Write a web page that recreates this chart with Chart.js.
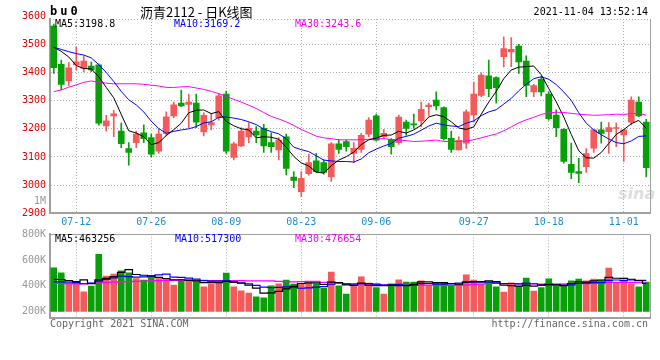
<!DOCTYPE html>
<html>
<head>
<meta charset="utf-8">
<script src="https://cdn.jsdelivr.net/npm/chart.js@4.4.0/dist/chart.umd.min.js"></script>
<style>
  body { margin: 0; background: #fff; }
  #wrap { position: relative; width: 660px; height: 360px; overflow: hidden; font-family: 'DejaVu Sans Mono', monospace; }
  canvas { position: absolute; left: 0; }
  .txt { position: absolute; white-space: nowrap; font-size: 10px; line-height: 12px; }
</style>
</head>
<body>
<div id="wrap">
  <div class="txt" style="left:618px;top:184px;font:italic bold 16px 'DejaVu Sans';color:#dedede;line-height:20px">sina</div>
  <canvas id="kChart" width="660" height="232" style="top:0"></canvas>
  <canvas id="volChart" width="660" height="110" style="top:222px"></canvas>

  <div class="txt" style="left:50px;top:5px;font-weight:bold;font-size:12px;letter-spacing:3px">bu0</div>
  <div class="txt" style="left:140px;top:3px;font-family:'Noto Sans CJK SC';font-size:13px;line-height:17px">沥青2112 - 日K线图</div>
  <div class="txt" style="right:12px;top:6px">2021-11-04 13:52:14</div>

  <div class="txt" style="left:55px;top:18px;color:#000">MA5:3198.8</div>
  <div class="txt" style="left:174px;top:18px;color:#0000ff">MA10:3169.2</div>
  <div class="txt" style="left:295px;top:18px;color:#ff00ff">MA30:3243.6</div>
  <div class="txt" style="right:614px;top:195px;color:#999">1M</div>

  <div class="txt" style="left:55px;top:233px;color:#000">MA5:463256</div>
  <div class="txt" style="left:175px;top:233px;color:#0000ff">MA10:517300</div>
  <div class="txt" style="left:295px;top:233px;color:#ff00ff">MA30:476654</div>

  <div class="txt" style="left:50px;top:318px;color:#666">Copyright 2021 SINA.COM</div>
  <div class="txt" style="right:12px;top:318px;color:#666">http://finance.sina.com.cn</div>
</div>

<script>
// 交易日
const dates = [
  '07-07','07-08','07-09','07-12','07-13','07-14','07-15','07-16','07-19','07-20',
  '07-21','07-22','07-23','07-26','07-27','07-28','07-29','07-30','08-02','08-03',
  '08-04','08-05','08-06','08-09','08-10','08-11','08-12','08-13','08-16','08-17',
  '08-18','08-19','08-20','08-23','08-24','08-25','08-26','08-27','08-30','08-31',
  '09-01','09-02','09-03','09-06','09-07','09-08','09-09','09-10','09-13','09-14',
  '09-15','09-16','09-17','09-22','09-23','09-24','09-27','09-28','09-29','09-30',
  '10-08','10-11','10-12','10-13','10-14','10-15','10-18','10-19','10-20','10-21',
  '10-22','10-25','10-26','10-27','10-28','10-29','11-01','11-02','11-03','11-04'
];
const tickDates = ['07-12','07-26','08-09','08-23','09-06','09-27','10-18','11-01'];

const openPx = [
  3565,3429,3370,3427,3415,3423,3427,3210,3246,3192,
  3130,3151,3186,3169,3121,3184,3246,3291,3287,3291,
  3189,3214,3240,3323,3098,3139,3171,3192,3202,3151,
  3125,3172,3029,2977,3041,3086,3080,3029,3147,3155,
  3113,3127,3181,3246,3172,3163,3151,3224,3218,3228,
  3279,3302,3275,3166,3125,3149,3249,3319,3388,3382,
  3456,3473,3494,3441,3331,3376,3323,3249,3198,3074,
  3048,3066,3131,3196,3190,3201,3178,3224,3295,3224
];
const highPx = [
  3572,3444,3435,3490,3459,3437,3431,3248,3266,3220,
  3151,3192,3214,3181,3198,3260,3295,3338,3323,3323,
  3257,3255,3326,3334,3153,3204,3222,3208,3216,3186,
  3169,3181,3048,3048,3110,3113,3090,3151,3163,3160,
  3151,3184,3240,3252,3198,3165,3249,3231,3252,3295,
  3291,3331,3278,3192,3172,3267,3366,3399,3444,3385,
  3527,3524,3500,3459,3358,3385,3331,3267,3201,3149,
  3095,3130,3198,3224,3222,3220,3198,3314,3314,3234
];
const lowPx = [
  3397,3338,3352,3409,3402,3403,3213,3192,3172,3133,
  3071,3133,3151,3100,3113,3175,3240,3279,3204,3204,
  3175,3196,3231,3113,3090,3137,3151,3151,3116,3116,
  3090,3036,2991,2959,3035,3045,3039,3013,3113,3121,
  3080,3116,3172,3157,3165,3110,3145,3177,3201,3208,
  3246,3267,3160,3116,3125,3130,3224,3314,3314,3291,
  3420,3421,3397,3314,3314,3317,3231,3172,3078,3023,
  3009,3045,3116,3149,3113,3137,3084,3214,3243,3029
];
const closePx = [
  3417,3358,3417,3438,3441,3409,3220,3228,3253,3147,
  3116,3181,3165,3110,3181,3243,3285,3281,3295,3224,
  3248,3222,3317,3121,3147,3192,3202,3178,3139,3137,
  3160,3059,3017,3024,3080,3048,3045,3147,3127,3137,
  3131,3177,3231,3160,3184,3137,3242,3201,3214,3269,
  3284,3281,3165,3127,3159,3260,3323,3391,3343,3346,
  3485,3482,3438,3354,3354,3331,3236,3204,3084,3045,
  3042,3112,3196,3184,3204,3204,3196,3302,3246,3062
];

const ma5 = [
  3490,3475,3455,3425,3414,3413,3385,3347,3310,3251,
  3193,3185,3172,3144,3151,3176,3197,3220,3257,3266,
  3267,3254,3261,3226,3211,3200,3196,3168,3172,3170,
  3163,3135,3102,3079,3068,3046,3043,3069,3089,3101,
  3117,3144,3161,3167,3177,3178,3191,3185,3196,3213,
  3242,3250,3243,3225,3203,3198,3207,3252,3295,3333,
  3378,3409,3419,3421,3423,3392,3343,3296,3242,3180,
  3122,3097,3096,3116,3148,3180,3197,3218,3230,3202
];
const ma10 = [
  3490,3482,3474,3467,3462,3452,3428,3400,3368,3333,
  3303,3285,3260,3227,3201,3184,3191,3196,3200,3208,
  3221,3225,3241,3242,3238,3233,3225,3215,3199,3190,
  3182,3165,3135,3126,3119,3104,3089,3086,3084,3084,
  3082,3093,3115,3128,3139,3148,3167,3173,3181,3195,
  3210,3220,3214,3210,3208,3220,3228,3247,3260,3268,
  3288,3308,3335,3358,3378,3385,3376,3357,3331,3301,
  3257,3220,3196,3179,3164,3151,3147,3157,3173,3175
];
const ma30 = [
  3332,3338,3348,3356,3365,3370,3365,3362,3360,3360,
  3360,3360,3358,3355,3352,3347,3347,3349,3350,3345,
  3340,3333,3325,3315,3305,3295,3284,3272,3258,3244,
  3235,3225,3212,3198,3186,3174,3168,3165,3161,3161,
  3161,3161,3163,3165,3165,3162,3160,3158,3155,3156,
  3158,3160,3155,3155,3155,3157,3161,3168,3175,3182,
  3193,3207,3221,3232,3241,3251,3257,3259,3258,3255,
  3252,3250,3248,3249,3250,3252,3251,3254,3255,3248
];

// 成交量 (K)
const volume = [
  538,500,417,417,352,396,645,474,490,515,
  500,456,443,469,456,456,405,445,448,432,
  391,416,429,499,391,360,343,313,305,398,
  414,444,412,418,422,414,380,506,398,335,
  395,468,421,385,335,414,445,428,428,437,
  405,422,422,398,414,484,443,414,428,391,
  351,422,394,460,358,385,453,399,412,437,
  451,437,451,443,537,421,433,414,391,428
];
const volMa5 = [
  450,448,440,432,445,416,445,457,471,504,
  525,487,481,477,465,456,446,446,442,437,
  424,426,423,433,425,419,404,381,342,344,
  355,375,395,417,422,422,409,428,424,407,
  403,420,403,401,401,405,400,401,410,430,
  429,424,423,417,412,428,432,431,437,432,
  405,401,397,404,397,404,410,411,401,417,
  430,427,438,444,464,458,457,450,439,417
];
const volMa10 = [
  430,430,428,424,415,420,435,448,460,474,
  471,466,469,474,484,490,466,464,459,451,
  440,436,435,438,431,422,415,402,388,385,
  387,390,388,380,383,388,392,411,421,414,
  412,415,416,412,404,404,410,402,405,416,
  417,412,412,413,421,428,428,427,427,422,
  417,417,414,420,415,405,406,404,403,407,
  417,419,424,423,441,444,442,444,442,441
];
const volMa30 = [
  418,418,416,414,414,418,422,425,428,430,
  432,434,436,438,440,441,442,442,442,442,
  441,440,440,440,440,439,438,438,437,437,
  433,431,430,431,433,433,425,426,423,417,
  413,414,413,410,406,405,406,405,405,405,
  405,405,405,402,403,407,410,413,418,417,
  415,415,414,415,413,412,415,411,412,415,
  417,416,417,419,425,426,425,425,424,423
];

const priceTicks = [2900, 3000, 3100, 3200, 3300, 3400, 3500, 3600];
const volLabelTicks = [200, 400, 600, 800];
const volGridTicks = [330, 480, 630];

const RED = '#f45a5a';
const GREEN = '#08a008';
const GRID = '#b0b0b0';
const AXIS = '#a0a0a0';
const MONO = 'DejaVu Sans Mono';

const candleColors = closePx.map((c, i) => c >= openPx[i] ? RED : GREEN);
const bodies = openPx.map((o, i) => [o, closePx[i]]);
const wicks = lowPx.map((l, i) => [l, highPx[i]]);
const volBars = volume.map(v => [200, v]);

// 右边框和上边框
function framePlugin(topDashed) {
  return {
    id: 'frame',
    afterDraw(chart) {
      const { ctx, chartArea: a } = chart;
      ctx.save();
      ctx.strokeStyle = AXIS;
      ctx.lineWidth = 1;
      ctx.beginPath();
      ctx.moveTo(a.right + 0.5, a.top);
      ctx.lineTo(a.right + 0.5, a.bottom);
      ctx.stroke();
      if (topDashed) {
        ctx.strokeStyle = GRID;
        ctx.setLineDash([1, 2]);
      }
      ctx.beginPath();
      ctx.moveTo(a.left, Math.round(a.top) + 0.5);
      ctx.lineTo(a.right, Math.round(a.top) + 0.5);
      ctx.stroke();
      ctx.restore();
    }
  };
}

function lineSet(label, data, color, width, stepped) {
  return {
    type: 'line', label, data, borderColor: color, borderWidth: width,
    pointRadius: 0, tension: 0, stepped: stepped || false, order: 0
  };
}

function dateGrid(ctx) {
  return tickDates.includes(dates[ctx.index]) ? GRID : 'transparent';
}

const baseOptions = {
  responsive: false,
  animation: false,
  devicePixelRatio: 1,
  plugins: { legend: { display: false }, tooltip: { enabled: false } }
};

new Chart(document.getElementById('kChart'), {
  type: 'bar',
  data: {
    labels: dates,
    datasets: [
      lineSet('MA5', ma5, '#000000', 1),
      lineSet('MA10', ma10, '#0000ff', 1),
      lineSet('MA30', ma30, '#ff00ff', 1),
      { label: 'body', data: bodies, backgroundColor: candleColors, barThickness: 6, minBarLength: 1, grouped: false, order: 1 },
      { label: 'wick', data: wicks, backgroundColor: candleColors, barThickness: 1, grouped: false, order: 2 }
    ]
  },
  options: {
    ...baseOptions,
    layout: { padding: { top: 19, right: 10, left: 0, bottom: 0 } },
    scales: {
      x: {
        offset: true,
        grid: { offset: false, drawTicks: false, color: dateGrid },
        border: { color: AXIS, width: 2, dash: [1, 2] },
        ticks: {
          autoSkip: false, maxRotation: 0, padding: 3, color: '#1f8dd6',
          font: { family: MONO, size: 10 },
          callback: (v, i) => tickDates.includes(dates[i]) ? dates[i] : ''
        },
        afterFit: s => { s.height = 18.7; }
      },
      y: {
        min: 2900, max: 3590,
        afterBuildTicks: s => { s.ticks = priceTicks.map(v => ({ value: v })); },
        grid: { drawTicks: false, color: c => (c.tick.value > 2900 && c.tick.value < 3590) ? GRID : 'transparent' },
        border: { color: AXIS, width: 2, dash: [1, 2] },
        ticks: { padding: 4, color: '#e80000', font: { family: MONO, size: 10 }, callback: v => String(v) },
        afterFit: s => { s.width = 50; }
      }
    }
  },
  plugins: [framePlugin(true)]
});

new Chart(document.getElementById('volChart'), {
  type: 'bar',
  data: {
    labels: dates,
    datasets: [
      lineSet('MA5', volMa5, '#000000', 1.2, 'middle'),
      lineSet('MA10', volMa10, '#0000ff', 1.2, 'middle'),
      lineSet('MA30', volMa30, '#ff00ff', 1.2, 'middle'),
      { label: 'vol', data: volBars, backgroundColor: candleColors, barThickness: 6, grouped: false, order: 1 }
    ]
  },
  options: {
    ...baseOptions,
    layout: { padding: { top: 12.3, right: 10, left: 0, bottom: 0 } },
    scales: {
      x: {
        offset: true,
        grid: { offset: false, drawTicks: false, color: dateGrid },
        border: { color: AXIS, width: 2, dash: [1, 2] },
        ticks: { display: false },
        afterFit: s => { s.height = 13.7; }
      },
      y: {
        min: 146, max: 800,
        afterBuildTicks: s => {
          s.ticks = volLabelTicks.concat(volGridTicks).sort((a, b) => a - b).map(v => ({ value: v }));
        },
        grid: { drawTicks: false, color: c => volGridTicks.includes(c.tick.value) ? GRID : 'transparent' },
        border: { color: AXIS, width: 2, dash: [1, 2] },
        ticks: {
          padding: 4, color: '#999999', font: { family: MONO, size: 10 },
          callback: v => volLabelTicks.includes(v) ? v + 'K' : ''
        },
        afterFit: s => { s.width = 50; }
      }
    }
  },
  plugins: [framePlugin(false)]
});
</script>
</body>
</html>
